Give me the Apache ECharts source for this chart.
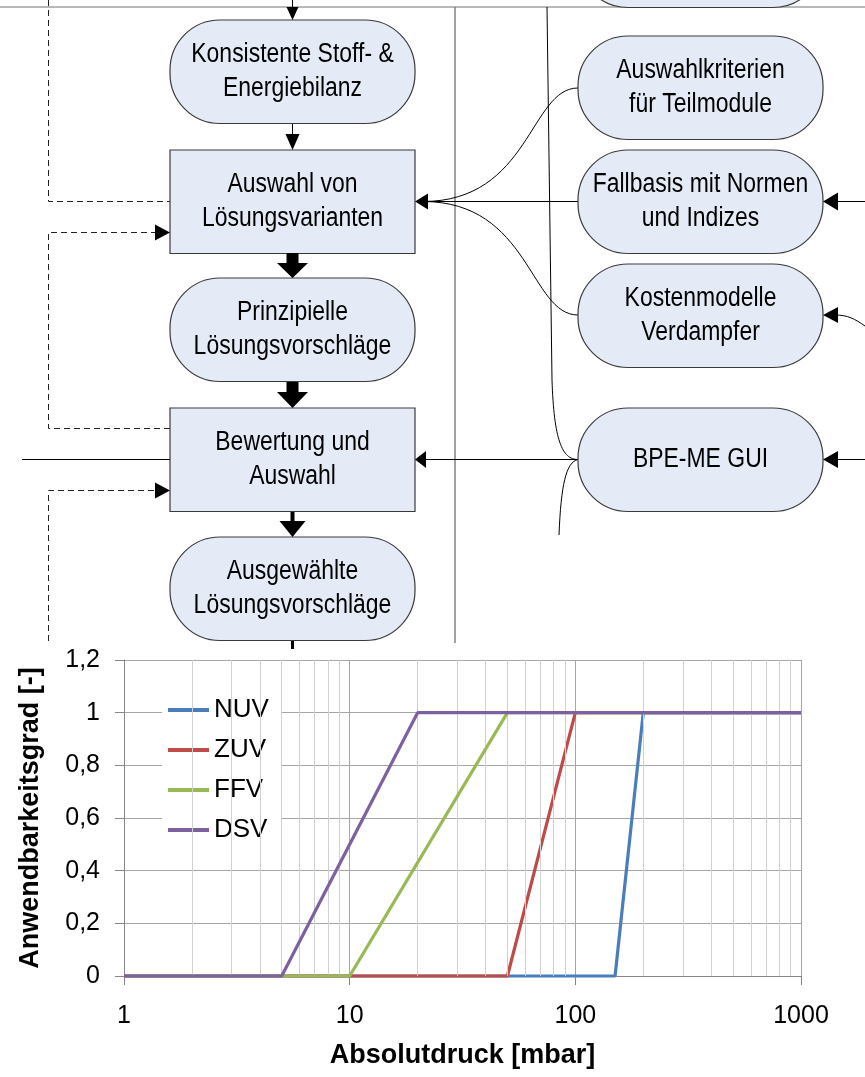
<!DOCTYPE html>
<html>
<head>
<meta charset="utf-8">
<script src="https://cdn.jsdelivr.net/npm/echarts@6/dist/echarts.min.js"></script>
<style>
html,body{margin:0;padding:0;background:#fff;}
#chart{width:865px;height:1077px;}
</style>
</head>
<body>
<div id="chart"></div>
<script>
// ---------------- DATA ----------------
const seriesNames = ['NUV', 'ZUV', 'FFV', 'DSV'];
const nuvData = [[1, 0], [150, 0], [200, 1], [1000, 1]];
const zuvData = [[1, 0], [50, 0], [100, 1], [1000, 1]];
const ffvData = [[1, 0], [10, 0], [50, 1], [1000, 1]];
const dsvData = [[1, 0], [5, 0], [20, 1], [1000, 1]];
const xMajorTicks = [1, 10, 100, 1000];
const xMinorTicks = [2, 3, 4, 5, 6, 7, 8, 9, 20, 30, 40, 50, 60, 70, 80, 90, 200, 300, 400, 500, 600, 700, 800, 900];
const yTickValues = [0, 0.2, 0.4, 0.6, 0.8, 1, 1.2];
const xAxisTitle = 'Absolutdruck [mbar]';
const yAxisTitle = 'Anwendbarkeitsgrad [-]';

// flowchart texts
const leftColumnLabels = [
  'Konsistente Stoff- &\nEnergiebilanz',
  'Auswahl von\nLösungsvarianten',
  'Prinzipielle\nLösungsvorschläge',
  'Bewertung und\nAuswahl',
  'Ausgewählte\nLösungsvorschläge'
];
const leftColumnShapes = ['round', 'rect', 'round', 'rect', 'round'];
const rightColumnLabels = [
  '',
  'Auswahlkriterien\nfür Teilmodule',
  'Fallbasis mit Normen\nund Indizes',
  'Kostenmodelle\nVerdampfer',
  'BPE-ME GUI'
];

// ---------------- STYLE / LAYOUT ----------------
const colors = ['#4a7ebb', '#be4b48', '#98b954', '#7d60a0'];
const chartFont = "'Liberation Sans', Arial, sans-serif";
const boxFont = "'Liberation Sans', Arial, sans-serif";
const boxFill = '#e5ebf6';
const boxStroke = '#3a3a3a';

const L = {
  boxW: 245, leftX: 170, rightX: 578,
  leftTops: [20, 150, 278, 408, 537],
  rightTops: [-96, 36, 150, 264, 408],
  boxH: 103.5
};

function boxEl(x, y, shape, label) {
  const els = [];
  els.push({
    type: 'rect',
    shape: { x: x, y: y, width: L.boxW, height: L.boxH, r: shape === 'round' ? 50 : 0 },
    style: { fill: boxFill, stroke: boxStroke, lineWidth: 1.2 },
    z: 10
  });
  if (label) {
    els.push({
      type: 'text',
      x: x + L.boxW / 2, y: y + L.boxH / 2, scaleX: 0.85,
      style: {
        text: label, x: 0, y: 0,
        fontSize: 27, fontFamily: boxFont, fill: '#000',
        align: 'center', verticalAlign: 'middle',
        textAlign: 'center', textVerticalAlign: 'middle', lineHeight: 34
      },
      z: 11
    });
  }
  return els;
}

function tri(points, z) {
  return { type: 'polygon', shape: { points: points }, style: { fill: '#000' }, z: z || 12 };
}
function ln(x1, y1, x2, y2, style, z) {
  return { type: 'line', shape: { x1, y1, x2, y2 }, style: Object.assign({ stroke: '#000', lineWidth: 1 }, style || {}), z: z || 9 };
}
function poly(points, style, z) {
  return { type: 'polyline', shape: { points }, style: Object.assign({ stroke: '#000', lineWidth: 1, fill: null }, style || {}), z: z || 9 };
}
function bez(x1, y1, c1x, c1y, c2x, c2y, x2, y2) {
  return { type: 'bezierCurve', shape: { x1, y1, x2, y2, cpx1: c1x, cpy1: c1y, cpx2: c2x, cpy2: c2y },
    style: { stroke: '#000', lineWidth: 1, fill: null }, z: 9 };
}
function leftHead(tx, ty, len, hw) { return tri([[tx, ty], [tx + len, ty - hw], [tx + len, ty + hw]]); }
function rightHead(tx, ty, len, hw) { return tri([[tx, ty], [tx - len, ty - hw], [tx - len, ty + hw]]); }
function downHead(tx, ty, len, hw) { return tri([[tx, ty], [tx - hw, ty - len], [tx + hw, ty - len]]); }

function buildFlowchart() {
  const g = [];
  const cx = L.leftX + L.boxW / 2;
  const rEdge = L.leftX + L.boxW;
  const dash = { stroke: '#222', lineWidth: 1, lineDash: [6, 4] };
  const dx = 48.5;
  // frame lines
  g.push(ln(0, 7, 865, 7, { stroke: '#a0a0a0', lineWidth: 1.5 }, 5));
  g.push(ln(455, 7, 455, 643, { stroke: '#7f7f7f', lineWidth: 1.5 }, 5));
  // boxes
  leftColumnLabels.forEach((t, i) => g.push(...boxEl(L.leftX, L.leftTops[i], leftColumnShapes[i], t)));
  rightColumnLabels.forEach((t, i) => g.push(...boxEl(L.rightX, L.rightTops[i], 'round', t)));
  // vertical arrows left column
  g.push(ln(cx, 0, cx, 9));
  g.push(downHead(cx, 20, 13, 6));
  g.push(ln(cx, 124, cx, 136));
  g.push(downHead(cx, 150, 16, 7));
  [[253, 278], [382, 408]].forEach(([a, b]) => {
    g.push(tri([[cx - 6, a], [cx + 6, a], [cx + 6, a + 10], [cx + 15.5, a + 10], [cx, b], [cx - 15.5, a + 10], [cx - 6, a + 10]]));
  });
  g.push(ln(cx, 511, cx, 524, { lineWidth: 4 }));
  g.push(downHead(cx, 537, 16, 13));
  g.push(ln(cx, 640, cx, 649, { lineWidth: 3 }));
  // dashed feedback lines
  g.push(poly([[dx, 0], [dx, 201.5], [L.leftX, 201.5]], dash));
  g.push(poly([[L.leftX, 428.5], [dx, 428.5], [dx, 232.5], [L.leftX - 12, 232.5]], dash));
  g.push(rightHead(L.leftX, 232.5, 15, 8));
  g.push(poly([[dx, 641], [dx, 490.5], [L.leftX - 12, 490.5]], dash));
  g.push(rightHead(L.leftX, 490.5, 15, 8));
  // side input line at Bewertung
  g.push(ln(22, 459.5, L.leftX, 459.5));
  // connections from right column into left boxes
  g.push(ln(L.rightX, 201.5, rEdge + 10, 201.5));
  g.push(bez(L.rightX, 88, 530, 88, 530, 201.5, rEdge + 8, 201.5));
  g.push(bez(L.rightX, 315, 530, 315, 530, 201.5, rEdge + 8, 201.5));
  g.push(leftHead(rEdge, 201.5, 13, 8));
  g.push(ln(L.rightX, 459.5, rEdge + 10, 459.5));
  g.push(leftHead(rEdge, 459.5, 11, 8.5));
  // long vertical curve into BPE-ME GUI
  g.push(ln(547, 7, 552, 380));
  g.push(bez(552, 380, 554, 440, 562, 459.5, L.rightX, 459.5));
  g.push(bez(L.rightX, 459.5, 566, 462, 561, 485, 559, 535));
  // inputs from the right edge
  const rr = L.rightX + L.boxW;
  g.push(ln(865, 201.5, rr + 12, 201.5));
  g.push(leftHead(rr, 201.5, 15, 9));
  g.push(bez(865, 326, 855, 319, 848, 315, rr + 12, 315));
  g.push(leftHead(rr, 315, 15, 8));
  g.push(ln(865, 459.5, rr + 12, 459.5));
  g.push(leftHead(rr, 459.5, 15, 8.5));
  return g;
}

// ---------------- CHART ----------------
const chart = echarts.init(document.getElementById('chart'), null, { renderer: 'canvas' });
const lineData = [nuvData, zuvData, ffvData, dsvData];

const series = seriesNames.map((n, i) => ({
  name: n, type: 'line', data: lineData[i], symbol: 'none', showSymbol: false,
  lineStyle: { color: colors[i], width: 3.2 }, itemStyle: { color: colors[i] },
  z: 3 + i, clip: false, animation: false
}));
series.unshift({
  name: '_minor', type: 'line', data: [], z: 1, silent: true, animation: false,
  markLine: {
    silent: true, symbol: 'none', animation: false,
    label: { show: false },
    lineStyle: { color: '#d0d0d0', width: 1, type: 'solid' },
    data: xMinorTicks.map(v => ({ xAxis: v }))
  }
});

chart.setOption({
  animation: false,
  backgroundColor: '#fff',
  textStyle: { fontFamily: chartFont },
  grid: { left: 124, right: 64, top: 660, bottom: 101, containLabel: false },
  legend: {
    type: 'plain',
    data: seriesNames.map(n => ({ name: n, icon: 'rect' })),
    orient: 'vertical', left: 162, top: 691, width: 110, height: 150,
    backgroundColor: '#fff', padding: [6, 12, 6, 6],
    itemWidth: 41, itemHeight: 4, itemGap: 14,
    formatter: n => '{t|' + n + '}',
    textStyle: {
      fontSize: 26, color: '#000', overflow: 'none',
      rich: { t: { fontSize: 26, color: '#000', fontFamily: chartFont, width: 58, height: 27 } }
    },
    selectedMode: false
  },
  xAxis: {
    type: 'log', logBase: 10, min: 1, max: 1000,
    name: xAxisTitle, nameLocation: 'middle', nameGap: 66,
    nameTextStyle: { fontSize: 27, fontWeight: 'bold', color: '#000', fontFamily: chartFont },
    axisLine: { show: true, onZero: false, lineStyle: { color: '#868686', width: 1 } },
    axisTick: { show: true, length: 9, inside: false, lineStyle: { color: '#868686' } },
    axisLabel: {
      fontSize: 25, color: '#000', margin: 28, fontFamily: chartFont,
      formatter: v => (xMajorTicks.indexOf(Math.round(v)) >= 0 ? String(Math.round(v)) : '')
    },
    splitLine: { show: true, lineStyle: { color: '#a6a6a6', width: 1 } },
    minorTick: { show: false }, minorSplitLine: { show: false }
  },
  yAxis: {
    type: 'value', min: 0, max: 1.2, interval: 0.2,
    name: yAxisTitle, nameLocation: 'middle', nameGap: 80, nameRotate: 90,
    nameTextStyle: { fontSize: 27, fontWeight: 'bold', color: '#000', fontFamily: chartFont },
    axisLine: { show: true, lineStyle: { color: '#868686', width: 1 } },
    axisTick: { show: true, length: 9, inside: false, lineStyle: { color: '#868686' } },
    axisLabel: {
      fontSize: 25, color: '#000', margin: 24, fontFamily: chartFont,
      formatter: v => {
        const m = yTickValues.find(t => Math.abs(t - v) < 1e-6);
        return m === undefined ? '' : String(Number(m.toFixed(1))).replace('.', ',');
      }
    },
    splitLine: { show: true, lineStyle: { color: '#a6a6a6', width: 1 } }
  },
  series: series,
  graphic: { elements: buildFlowchart() }
});
</script>
</body>
</html>
